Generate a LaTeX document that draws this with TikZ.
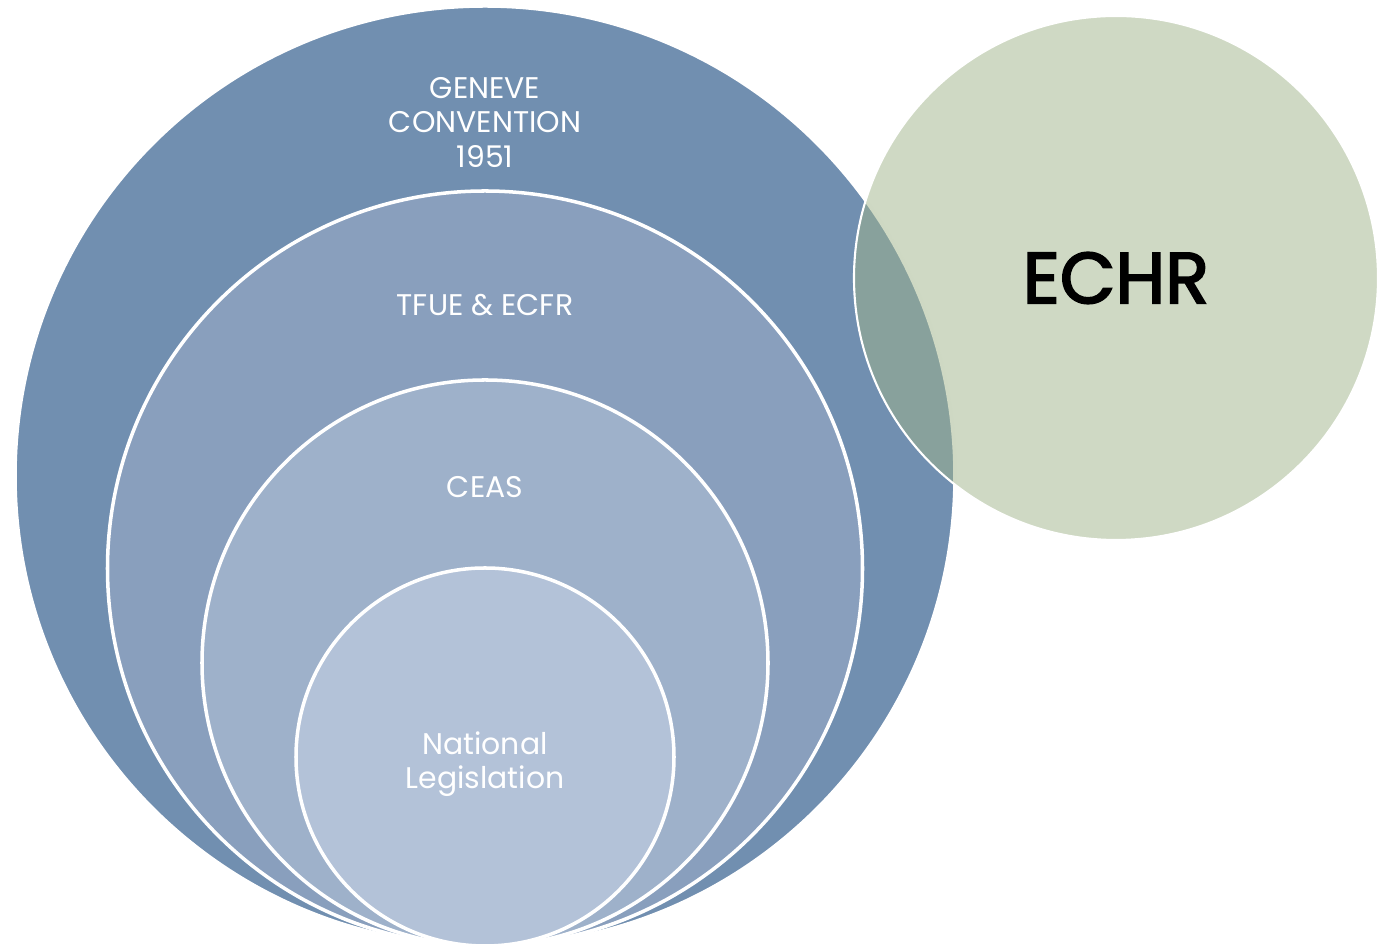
\documentclass[tikz,border=0pt]{standalone}
\usepackage{fontspec}
\setmainfont{Poppins}
\newfontfamily\echrfont{Poppins}[FakeBold=2.6]
\usepackage{xcolor}
\usetikzlibrary{positioning}
\definecolor{geneveblue}{RGB}{113,143,176}
\definecolor{tfueblue}{RGB}{137,159,189}
\definecolor{ceasblue}{RGB}{158,177,202}
\definecolor{natblue}{RGB}{179,194,216}
\definecolor{echrgreen}{RGB}{159,179,137}

\begin{document}
\begin{tikzpicture}[
    ring/.style={draw=white, line width=2pt, circle, inner sep=0pt, outer sep=0pt},
    lbl/.style={text=white, align=center, inner sep=0pt, font=\fontsize{17}{19.6}\selectfont}]
  \useasboundingbox (0,0) rectangle (27.64,18.94);
  % nested circles
  \node (geneve) [ring, fill=geneveblue, minimum size=18.8cm] at (9.70,9.42) {};
  \node (tfue) [ring, fill=tfueblue, minimum size=15.1cm] at (9.70,7.57) {};
  \node (ceas) [ring, fill=ceasblue, minimum size=11.32cm] at (9.70,5.68) {};
  \node (national) [ring, fill=natblue, minimum size=7.56cm] at (9.70,3.80) {};
  % overlapping circle
  \node (echr) [circle, draw=white, line width=1.2pt, fill=echrgreen, fill opacity=0.5, inner sep=0pt, outer sep=0pt, minimum size=10.48cm] at (22.32,13.38) {};
  % labels
  \node (genevelabel) [lbl, below=1.42cm of geneve.north] {GENEVE\\CONVENTION\\1951};
  \node (tfuelabel) [lbl, below=2.06cm of tfue.north] {TFUE \& ECFR};
  \node (ceaslabel) [lbl, below=1.92cm of ceas.north] {CEAS};
  \node (nationallabel) [lbl, below=3.26cm of national.north] {National\\Legislation};
  \node (echrlabel) [font=\echrfont\fontsize{41}{48}\selectfont] at (echr.center) {ECHR};
\end{tikzpicture}
\end{document}
